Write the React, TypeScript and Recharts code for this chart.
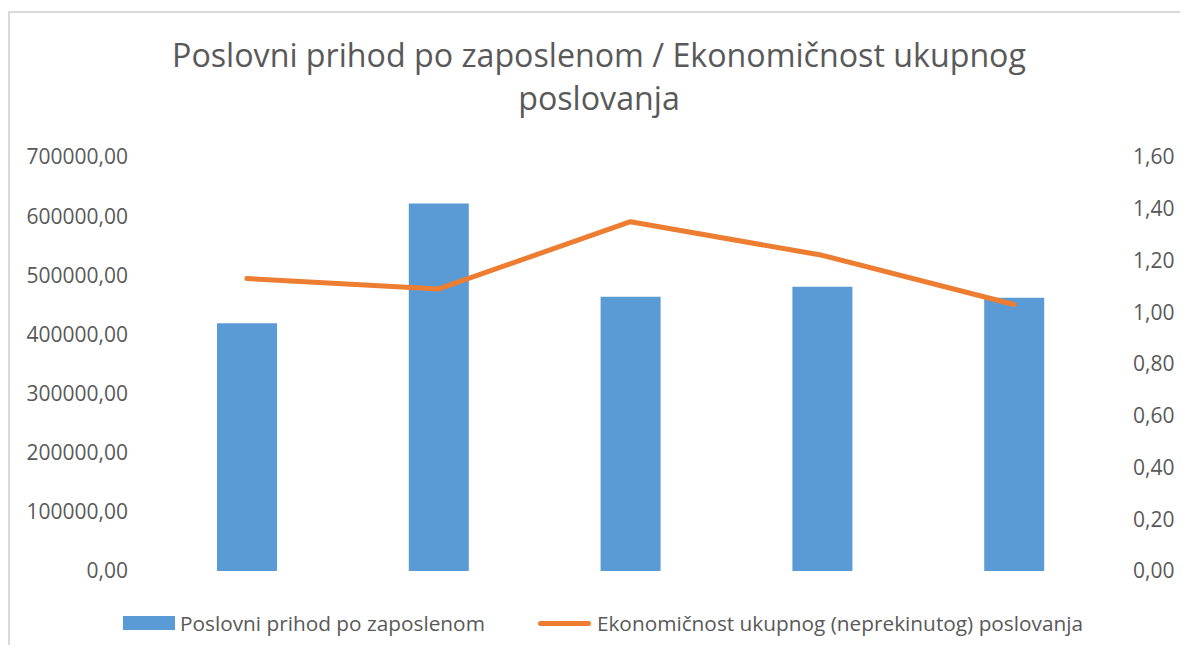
import React from 'react';
import { ComposedChart, Bar, Line, XAxis, YAxis, Legend } from 'recharts';

const categories = ['1', '2', '3', '4', '5'];
const prihodPoZaposlenom = [419000, 621500, 463800, 480700, 462100];
const ekonomicnost = [1.13, 1.09, 1.35, 1.22, 1.03];
const leftTicks = [0, 100000, 200000, 300000, 400000, 500000, 600000, 700000];
const rightTicks = [0, 0.2, 0.4, 0.6, 0.8, 1.0, 1.2, 1.4, 1.6];

const titleLines = ['Poslovni prihod po zaposlenom / Ekonomičnost ukupnog', 'poslovanja'];
const barName = 'Poslovni prihod po zaposlenom';
const lineName = 'Ekonomičnost ukupnog (neprekinutog) poslovanja';

const data = categories.map((c, i) => ({
  name: c,
  prihod: prihodPoZaposlenom[i],
  ekonomicnost: ekonomicnost[i],
}));

const FONT = '"Open Sans", sans-serif';
const TEXT = '#595959';
const BLUE = '#5B9BD5';
const ORANGE = '#ED7D31';

const fmt = (v: number) => v.toFixed(2).replace('.', ',');

const LegendContent = () => (
  <div
    style={{
      display: 'flex',
      alignItems: 'center',
      height: 30,
      paddingLeft: 113,
      fontFamily: FONT,
      fontSize: 20.8,
      color: TEXT,
      whiteSpace: 'nowrap',
    }}
  >
    <span style={{ display: 'inline-block', width: 52, height: 14, background: BLUE, marginRight: 5 }} />
    <span>{barName}</span>
    <span
      style={{
        display: 'inline-block',
        width: 53,
        height: 5,
        borderRadius: 3,
        background: ORANGE,
        marginLeft: 53,
        marginRight: 6,
      }}
    />
    <span>{lineName}</span>
  </div>
);

export default function App() {
  return (
    <div style={{ width: 1172, height: 637, overflow: 'hidden', paddingTop: 3, boxSizing: 'border-box' }}>
      <div
        style={{
          position: 'relative',
          width: 1190,
          height: 660,
          border: '2px solid #d9d9d9',
          boxSizing: 'border-box',
          background: '#fff',
        }}
      >
        <div
          style={{
            position: 'absolute',
            left: 0,
            top: 20,
            width: 1178,
            textAlign: 'center',
            fontFamily: FONT,
            fontSize: 32.2,
            lineHeight: '43px',
            color: TEXT,
            zIndex: 1,
          }}
        >
          {titleLines.map((t) => (
            <div key={t}>{t}</div>
          ))}
        </div>
        <ComposedChart
          width={1178}
          height={632}
          data={data}
          margin={{ top: 144, right: 18, left: 0, bottom: 44 }}
          barCategoryGap="34%"
        >
          <XAxis dataKey="name" hide />
          <YAxis
            yAxisId="left"
            orientation="left"
            width={141}
            domain={[0, 700000]}
            ticks={leftTicks}
            tickFormatter={fmt}
            axisLine={false}
            tickLine={false}
            tickSize={0}
            tickMargin={23}
            tick={{ fill: TEXT, fontSize: 21, fontFamily: FONT }}
            interval={0}
          />
          <YAxis
            yAxisId="right"
            orientation="right"
            width={60}
            domain={[0, 1.6]}
            ticks={rightTicks}
            tickFormatter={fmt}
            axisLine={false}
            tickLine={false}
            tickSize={0}
            tickMargin={23}
            tick={{ fill: TEXT, fontSize: 21, fontFamily: FONT }}
            interval={0}
          />
          <Legend
            verticalAlign="bottom"
            content={<LegendContent />}
            wrapperStyle={{ top: 595, left: 0, width: 1178, height: 30, bottom: 'auto' }}
          />
          <Bar
            yAxisId="left"
            dataKey="prihod"
            name={barName}
            fill={BLUE}
            barSize={60}
            isAnimationActive={false}
          />
          <Line
            yAxisId="right"
            type="linear"
            dataKey="ekonomicnost"
            name={lineName}
            stroke={ORANGE}
            strokeWidth={5}
            strokeLinecap="round"
            strokeLinejoin="round"
            dot={false}
            activeDot={false}
            isAnimationActive={false}
          />
        </ComposedChart>
      </div>
    </div>
  );
}
